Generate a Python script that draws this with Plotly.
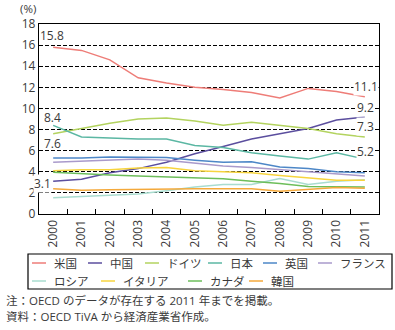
import plotly.graph_objects as go

years = [str(y) for y in range(2000, 2012)]

names = ["米国", "中国", "ドイツ", "日本", "英国", "フランス", "ロシア", "イタリア", "カナダ", "韓国"]

us      = [15.8, 15.5, 14.6, 12.9, 12.4, 12.0, 11.8, 11.5, 11.0, 11.9, 11.6, 11.1]
china   = [3.1, 3.3, 3.9, 4.3, 4.9, 5.7, 6.4, 7.1, 7.6, 8.1, 8.9, 9.2]
germany = [7.6, 8.1, 8.6, 9.0, 9.1, 8.8, 8.4, 8.7, 8.4, 8.1, 7.6, 7.3]
japan   = [8.4, 7.3, 7.2, 7.1, 7.1, 6.5, 6.3, 5.8, 5.5, 5.2, 5.8, 5.2]
uk      = [5.3, 5.3, 5.4, 5.4, 5.35, 5.1, 4.9, 4.95, 4.45, 4.3, 4.0, 3.9]
france  = [4.9, 5.0, 5.15, 5.2, 5.1, 4.85, 4.55, 4.4, 4.2, 4.05, 3.8, 3.6]
russia  = [1.55, 1.67, 1.76, 1.9, 2.2, 2.55, 2.8, 2.8, 3.35, 2.8, 3.1, 3.25]
italy   = [4.1, 4.2, 4.2, 4.35, 4.4, 4.1, 4.0, 3.9, 3.65, 3.4, 3.2, 3.2]
canada  = [3.95, 3.8, 3.7, 3.6, 3.5, 3.45, 3.35, 3.1, 2.9, 2.6, 2.55, 2.55]
korea   = [2.4, 2.25, 2.3, 2.35, 2.4, 2.4, 2.4, 2.4, 2.15, 2.3, 2.5, 2.45]

series = [us, china, germany, japan, uk, france, russia, italy, canada, korea]
colors = ["#EE7D78", "#5B4E9E", "#B3D35F", "#5BB7A3", "#4D87C7",
          "#A99ACB", "#A9DCCF", "#F7D43E", "#6DBE5B", "#F4A93B"]

yticks = list(range(0, 19, 2))
notes = ["注：OECD のデータが存在する 2011 年までを掲載。",
         "資料：OECD TiVA から経済産業省作成。"]

FONT = "Open Sans, Noto Sans CJK JP"
TXT = "#3a3a3a"

# plot area geometry (px)
L, R, T, B = 39, 379, 24, 214
W, H = 395, 330

def px(x):
    return (x - L) / (R - L)

def py(y):
    return (B - y) / (B - T)

fig = go.Figure()
for name, vals, col in zip(names, series, colors):
    fig.add_trace(go.Scatter(x=years, y=vals, mode="lines", name=name,
                             line=dict(color=col, width=1.5), showlegend=False))

annotations = []
# value labels at start / end (from data); x given as category index
start_lbls = [(us, 11.5, -1, False), (japan, 8, -1, False),
              (germany, -10, -1, False), (china, -2, -11, True)]
for arr, ys, xs, bg in start_lbls:
    annotations.append(dict(x=0, y=arr[0], xref="x", yref="y",
                            xanchor="center", yanchor="middle",
                            text=f"{arr[0]:.1f}", showarrow=False,
                            xshift=xs, yshift=ys,
                            bgcolor="white" if bg else "rgba(0,0,0,0)", borderpad=0,
                            font=dict(family=FONT, size=12, color=TXT)))
end_lbls = [(us, 10.5), (china, 9), (germany, 10), (japan, 8)]
last = len(years) - 1
for arr, ys in end_lbls:
    annotations.append(dict(x=last, y=arr[-1], xref="x", yref="y",
                            xanchor="center", yanchor="middle",
                            text=f"{arr[-1]:.1f}", showarrow=False,
                            xshift=1, yshift=ys, bgcolor="white", borderpad=0,
                            font=dict(family=FONT, size=12, color=TXT)))

# (%) label
annotations.append(dict(x=px(28), y=py(9), xref="paper", yref="paper",
                        xanchor="center", yanchor="middle",
                        text="(%)", showarrow=False,
                        font=dict(family=FONT, size=11.5, color=TXT)))

# custom legend
shapes = []
shapes.append(dict(type="rect", xref="paper", yref="paper",
                   x0=px(28), x1=px(392), y0=py(289), y1=py(254),
                   line=dict(color="black", width=1.2)))
legend_pos = [(32, 263), (88, 263), (145, 263), (208, 263), (263, 263), (318, 263),
              (32, 281), (101, 281), (188, 281), (249, 281)]
for (lx, ly), name, col in zip(legend_pos, names, colors):
    shapes.append(dict(type="line", xref="paper", yref="paper",
                       x0=px(lx), x1=px(lx + 14), y0=py(ly), y1=py(ly),
                       line=dict(color=col, width=1.5)))
    annotations.append(dict(x=px(lx + 20), y=py(ly), xref="paper", yref="paper",
                            xanchor="left", yanchor="middle", text=name,
                            showarrow=False,
                            font=dict(family=FONT, size=11.5, color=TXT)))

# notes
for nt, ny in zip(notes, [300, 316]):
    annotations.append(dict(x=px(4), y=py(ny), xref="paper", yref="paper",
                            xanchor="left", yanchor="middle", text=nt,
                            showarrow=False,
                            font=dict(family=FONT, size=11.5, color=TXT)))

fig.update_layout(
    width=W, height=H,
    margin=dict(l=L, r=W - R, t=T, b=H - B),
    paper_bgcolor="white", plot_bgcolor="white",
    font=dict(family=FONT, size=12, color=TXT),
    annotations=annotations, shapes=shapes,
    xaxis=dict(type="category", categoryorder="array", categoryarray=years,
               range=[-0.5, len(years) - 0.5], autorange=False,
               tickangle=-90, ticks="inside", ticklen=5, tickcolor="black",
               tickson="boundaries", showline=True, linecolor="black",
               linewidth=1.3, mirror=True, showgrid=False,
               tickfont=dict(family=FONT, size=12, color=TXT)),
    yaxis=dict(range=[0, 18], tickvals=yticks, showline=True, linecolor="black",
               linewidth=1.3, mirror=True, showgrid=True, gridcolor="black",
               gridwidth=1, griddash="4px,2px", zeroline=False, ticks="",
               tickfont=dict(family=FONT, size=12, color=TXT)),
)

fig.write_html("out.html")
